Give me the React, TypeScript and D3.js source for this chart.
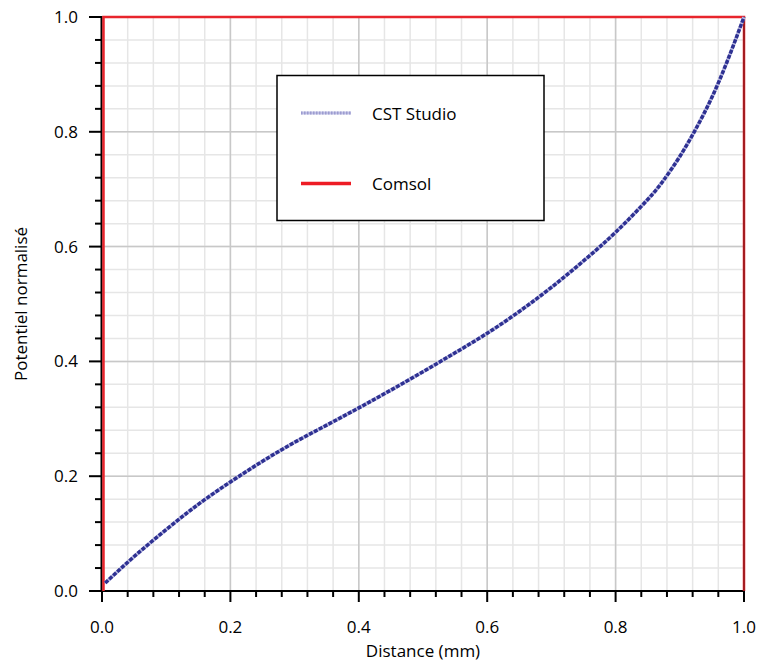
import React from "react";
import * as d3 from "d3";

// CST Studio simulation: normalised potential vs distance
const cstDistance = [0.005, 0.05, 0.1, 0.15, 0.2, 0.25, 0.3, 0.35, 0.4, 0.45, 0.5, 0.55, 0.6, 0.65, 0.7, 0.75, 0.8, 0.85, 0.875, 0.9, 0.925, 0.95, 0.975, 1.0];
const cstPotential = [0.014, 0.06, 0.107, 0.151, 0.19, 0.226, 0.259, 0.289, 0.319, 0.35, 0.382, 0.415, 0.449, 0.487, 0.529, 0.575, 0.625, 0.682, 0.716, 0.757, 0.805, 0.86, 0.926, 1.0];

// Comsol series as exported
const comsolDistance = [0, 0, 1, 1];
const comsolPotential = [0, 1, 1, 0];

const xTicks = [0, 0.2, 0.4, 0.6, 0.8, 1.0];
const yTicks = [0, 0.2, 0.4, 0.6, 0.8, 1.0];
const minorStep = 0.04;

const legendLabels = ["CST Studio", "Comsol"];

const W = 762;
const H = 663;
const FONT = "'Open Sans', sans-serif";

export default function App() {
  const x = d3.scaleLinear().domain([0, 1]).range([102, 744]);
  const y = d3.scaleLinear().domain([0, 1]).range([591, 17]);

  const minor = d3.range(0, 1 + 1e-9, minorStep);

  const line = d3
    .line<[number, number]>()
    .x((d) => x(d[0]))
    .y((d) => y(d[1]))
    .curve(d3.curveNatural);

  const cst: [number, number][] = cstDistance.map((d, i) => [d, cstPotential[i]]);
  const comsol: [number, number][] = comsolDistance.map((d, i) => [d, comsolPotential[i]]);
  const comsolPath = d3
    .line<[number, number]>()
    .x((d) => x(d[0]) + (d[0] === 0 ? 1.5 : 0))
    .y((d) => y(d[1]))(comsol);

  const [x0, x1] = x.range();
  const [y0, y1] = y.range();
  const cstPath = line(cst) || "";

  return (
    <svg
      width={W}
      height={H}
      style={{ position: "absolute", left: 0, top: 0, background: "#fff" }}
      fontFamily={FONT}
    >
      {/* minor grid */}
      <g stroke="#e6e6e6" strokeWidth={1.5}>
        {minor.map((v, i) => (
          <line key={"mx" + i} x1={x(v)} x2={x(v)} y1={y0} y2={y1} />
        ))}
        {minor.map((v, i) => (
          <line key={"my" + i} x1={x0} x2={x1} y1={y(v)} y2={y(v)} />
        ))}
      </g>
      {/* major grid */}
      <g stroke="#c8c8c8" strokeWidth={1.5}>
        {xTicks.map((v, i) => (
          <line key={"gx" + i} x1={x(v)} x2={x(v)} y1={y0} y2={y1} />
        ))}
        {yTicks.map((v, i) => (
          <line key={"gy" + i} x1={x0} x2={x1} y1={y(v)} y2={y(v)} />
        ))}
      </g>

      {/* axes */}
      <g stroke="#000" strokeWidth={2}>
        <line x1={x0 - 0.5} x2={x0 - 0.5} y1={y0} y2={y1 - 1} />
        <line x1={x0 - 1} x2={x1 + 1} y1={y0} y2={y0} />
        {minor.map((v, i) => {
          const major = Math.abs(Math.round(v / 0.2) * 0.2 - v) < 1e-6;
          return (
            <g key={"t" + i}>
              <line x1={x0 - (major ? 13 : 7)} x2={x0} y1={y(v)} y2={y(v)} />
              <line x1={x(v)} x2={x(v)} y1={y0} y2={y0 + (major ? 11 : 6)} />
            </g>
          );
        })}
      </g>

      {/* tick labels */}
      <g fontSize={17} fill="#000">
        {yTicks.map((v, i) => (
          <text key={"yl" + i} x={78} y={y(v) + 6} textAnchor="end">
            {v.toFixed(1)}
          </text>
        ))}
        {xTicks.map((v, i) => (
          <text key={"xl" + i} x={x(v)} y={y0 + 42} textAnchor="middle">
            {v.toFixed(1)}
          </text>
        ))}
      </g>

      {/* axis titles */}
      <text x={(x0 + x1) / 2} y={657} fontSize={17} textAnchor="middle">
        Distance (mm)
      </text>
      <text
        transform={`translate(27,${(y0 + y1) / 2}) rotate(-90)`}
        fontSize={17}
        textAnchor="middle"
      >
        Potentiel normalisé
      </text>

      {/* Comsol series */}
      <path d={comsolPath || ""} fill="none" stroke="#e8252c" strokeWidth={2.5} />
      <line x1={x1} x2={x1} y1={y1} y2={y0} stroke="#a51c20" strokeWidth={2} />

      {/* CST Studio series */}
      <path d={cstPath} fill="none" stroke="#b8b8e0" strokeWidth={3.5} />
      <path d={cstPath} fill="none" stroke="#2e3192" strokeWidth={3.5} strokeDasharray="4 1.5" />

      {/* legend */}
      <g>
        <rect x={277} y={75.5} width={267} height={145} fill="#fff" stroke="#000" strokeWidth={1.5} />
        <line x1={301} x2={351} y1={113} y2={113} stroke="#c4c4e6" strokeWidth={3} />
        <line x1={301} x2={351} y1={113} y2={113} stroke="#9c9cd0" strokeWidth={3} strokeDasharray="1.5 1.5" />
        <text x={372} y={120} fontSize={17}>
          {legendLabels[0]}
        </text>
        <line x1={301} x2={351} y1={183.5} y2={183.5} stroke="#ed1c24" strokeWidth={3.5} />
        <text x={372} y={190} fontSize={17}>
          {legendLabels[1]}
        </text>
      </g>
    </svg>
  );
}
